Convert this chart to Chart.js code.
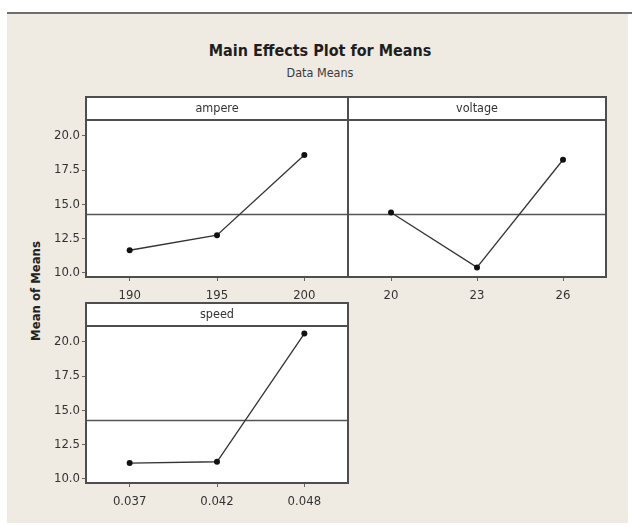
<!DOCTYPE html>
<html>
<head>
<meta charset="utf-8">
<script src="https://cdn.jsdelivr.net/npm/chart.js@4.4.1/dist/chart.umd.min.js"></script>
<style>
  body { margin: 0; width: 632px; height: 527px; background: #fff; position: relative; overflow: hidden;
         font-family: 'DejaVu Sans Condensed', 'DejaVu Sans', sans-serif; }
  #frame { position: absolute; left: 7px; top: 14px; width: 621px; height: 509px; background: #efebe2; }
  #topline { position: absolute; left: 7px; top: 12px; width: 625px; height: 2px; background: #6e6e6e; }
  .txt { position: absolute; white-space: nowrap; transform: translate(-50%, -50%); }
  #title { left: 320px; top: 50px; font-weight: bold; font-size: 16px; color: #1e1e1e; }
  #subtitle { left: 320px; top: 72px; font-size: 12.5px; color: #3a3a3a; }
  #ylabel { left: 35px; top: 291px; font-weight: bold; font-size: 13px; color: #222;
            transform: translate(-50%, -50%) rotate(-90deg); }
  canvas { position: absolute; }
</style>
</head>
<body>
<div id="frame"></div>
<div id="topline"></div>
<div id="title" class="txt">Main Effects Plot for Means</div>
<div id="subtitle" class="txt">Data Means</div>
<div id="ylabel" class="txt">Mean of Means</div>
<canvas id="ampere" style="left:0px; top:90px;" width="352" height="220"></canvas>
<canvas id="voltage" style="left:336px; top:90px;" width="274" height="220"></canvas>
<canvas id="speed" style="left:0px; top:296px;" width="352" height="220"></canvas>
<script>
// factor levels and mean response
const ampereLevels = ['190', '195', '200'];
const ampereMeans = [11.65, 12.75, 18.6];
const voltageLevels = ['20', '23', '26'];
const voltageMeans = [14.4, 10.4, 18.25];
const speedLevels = ['0.037', '0.042', '0.048'];
const speedMeans = [11.15, 11.25, 20.6];
const yTicks = [10, 12.5, 15, 17.5, 20];
const grandMean = 14.3;

const FONT = "'DejaVu Sans Condensed', 'DejaVu Sans', sans-serif";
const FRAME = '#4e4e4e';
const TEXT = '#333';

// white plot area, header strip with factor name, reference line at grand mean
const panelFrame = {
  id: 'panelFrame',
  beforeDraw(chart) {
    const { ctx, chartArea: a } = chart;
    ctx.save();
    ctx.fillStyle = '#fff';
    ctx.fillRect(a.left, a.top, a.right - a.left, a.bottom - a.top);
    ctx.restore();
  },
  beforeDatasetsDraw(chart) {
    const { ctx, chartArea: a, scales: { y } } = chart;
    const py = Math.round(y.getPixelForValue(grandMean)) + 0.5;
    ctx.save();
    ctx.strokeStyle = '#555';
    ctx.lineWidth = 1.5;
    ctx.beginPath();
    ctx.moveTo(a.left, py);
    ctx.lineTo(a.right, py);
    ctx.stroke();
    ctx.restore();
  },
  afterDraw(chart, args, opts) {
    const { ctx, chartArea: a } = chart;
    const h = opts.headerHeight;
    const top = a.top - h;
    ctx.save();
    ctx.fillStyle = '#fff';
    ctx.fillRect(a.left, top, a.right - a.left, h);
    ctx.strokeStyle = FRAME;
    ctx.lineWidth = 2;
    ctx.strokeRect(a.left, top, a.right - a.left, a.bottom - top);
    ctx.beginPath();
    ctx.moveTo(a.left, a.top);
    ctx.lineTo(a.right, a.top);
    ctx.stroke();
    ctx.fillStyle = TEXT;
    ctx.font = `12.5px ${FONT}`;
    ctx.textAlign = 'center';
    ctx.textBaseline = 'middle';
    ctx.fillText(opts.label, (a.left + a.right) / 2, top + h / 2);
    ctx.restore();
  },
};

function buildPanel(canvasId, label, levels, means, showY, yWidth, padding) {
  const ctx = document.getElementById(canvasId);
  return new Chart(ctx, {
    type: 'line',
    data: {
      labels: levels,
      datasets: [{
        data: means,
        borderColor: '#333',
        borderWidth: 1.3,
        pointRadius: 3,
        pointBackgroundColor: '#111',
        pointBorderWidth: 0,
        tension: 0,
      }],
    },
    plugins: [panelFrame],
    options: {
      responsive: false,
      animation: false,
      layout: { padding },
      plugins: {
        legend: { display: false },
        tooltip: { enabled: false },
        panelFrame: { label, headerHeight: 23 },
      },
      scales: {
        x: {
          type: 'category',
          offset: true,
          grid: { drawOnChartArea: false, drawTicks: true, tickLength: 4, color: '#666', offset: false },
          border: { display: false },
          ticks: { color: TEXT, font: { family: FONT, size: 13 }, padding: 7, maxRotation: 0 },
          afterFit(scale) { scale.height = 33; },
        },
        y: {
          min: 9.7,
          max: 21.15,
          afterBuildTicks(scale) { scale.ticks = yTicks.map(v => ({ value: v })); },
          grid: { display: showY, drawOnChartArea: false, drawTicks: true, tickLength: 4, color: '#666' },
          border: { display: false },
          ticks: {
            display: showY,
            color: TEXT,
            font: { family: FONT, size: 13 },
            padding: 2,
            callback: v => Number(v).toFixed(1),
          },
          afterFit(scale) { scale.width = yWidth; },
        },
      },
    },
  });
}

buildPanel('ampere', 'ampere', ampereLevels, ampereMeans, true, 86, { top: 30, right: 2, bottom: 0, left: 0 });
buildPanel('voltage', 'voltage', voltageLevels, voltageMeans, false, 12, { top: 30, right: 2, bottom: 0, left: 0 });
buildPanel('speed', 'speed', speedLevels, speedMeans, true, 86, { top: 30, right: 3, bottom: 0, left: 0 });
</script>
</body>
</html>
